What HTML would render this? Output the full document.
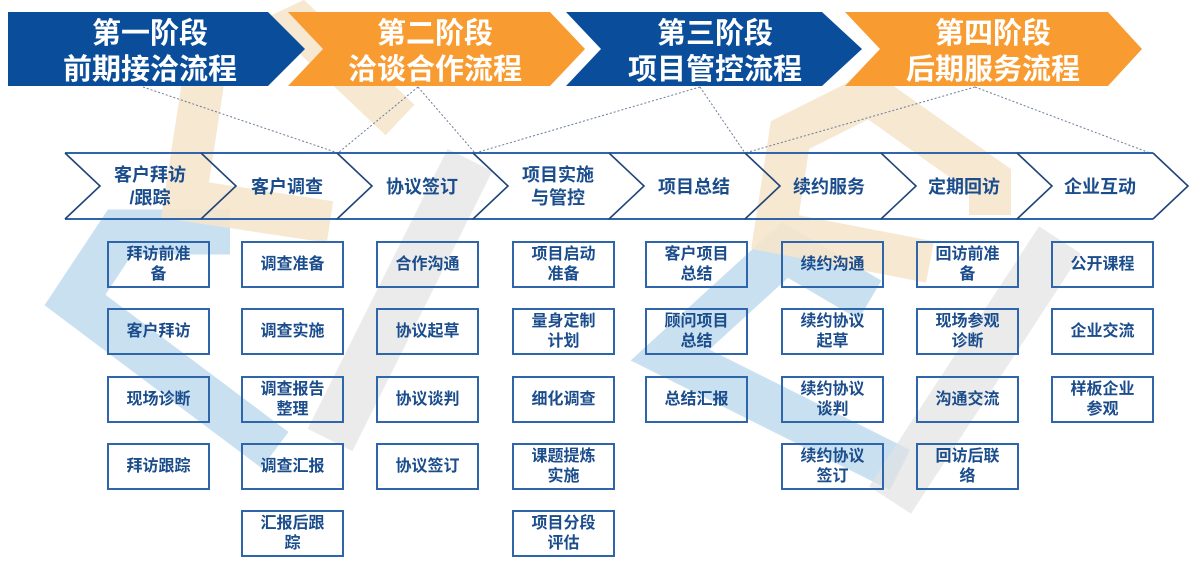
<!DOCTYPE html>
<html><head><meta charset="utf-8"><style>
body{margin:0;width:1204px;height:566px;background:#fff;position:relative;overflow:hidden;font-family:"Liberation Sans","Noto Sans CJK SC",sans-serif;}
svg{position:absolute;left:0;top:0}
.b{position:absolute;width:99px;height:43px;border:2px solid #2f66ab;display:flex;align-items:center;justify-content:center;text-align:center;font-weight:bold;font-size:16px;line-height:20px;color:#1b4d8c;box-sizing:content-box}
</style></head><body>
<svg width="1204" height="566">
<!-- watermark -->
<g fill="none" stroke-linejoin="miter">
<path d="M230,232 L120,232 L75,300 L275,450" stroke="#c9e0f1" stroke-width="45"/>
<path d="M870,300 L785,250 L670,355 L900,470" stroke="#c9e0f1" stroke-width="45"/>
<path d="M400,120 L300,25 L205,70 L185,200 L330,222" stroke="#f5e6cc" stroke-width="42" opacity="0.9"/>
<path d="M990,215 L990,180 L870,95 L790,135 L775,232 L930,262" stroke="#f5e6cc" stroke-width="42" opacity="0.9"/>
<path d="M330,440 L470,160" stroke="#e3e3e3" stroke-width="50" opacity="0.7"/>
<path d="M890,500 L1060,240" stroke="#e3e3e3" stroke-width="50" opacity="0.7"/>
</g>
<!-- banners -->
<polygon points="8,12 268,12 305,49 268,86 8,86" fill="#0a4d9b"/>
<polygon points="288,12 550,12 585,49 550,86 288,86 323,49" fill="#f89c32"/>
<polygon points="566,12 822,12 862,49 822,86 566,86 601,49" fill="#0a4d9b"/>
<polygon points="845,12 1108,12 1142,49 1108,86 845,86 880,49" fill="#f89c32"/>
<g font-weight="bold" font-size="29" fill="#fff" text-anchor="middle" font-family="Liberation Sans,Noto Sans CJK SC,sans-serif">
<text x="150" y="43">第一阶段</text><text x="150" y="79">前期接洽流程</text>
<text x="435" y="43">第二阶段</text><text x="435" y="79">洽谈合作流程</text>
<text x="715" y="43">第三阶段</text><text x="715" y="79">项目管控流程</text>
<text x="993" y="43">第四阶段</text><text x="993" y="79">后期服务流程</text>
</g>
<!-- dotted -->
<g stroke="#6b7c99" stroke-width="1" stroke-dasharray="2,2" fill="none">
<line x1="143" y1="87" x2="338" y2="153"/>
<line x1="418" y1="87" x2="338" y2="153"/>
<line x1="418" y1="87" x2="475" y2="153"/>
<line x1="700" y1="87" x2="475" y2="153"/>
<line x1="700" y1="87" x2="745" y2="153"/>
<line x1="975" y1="87" x2="745" y2="153"/>
<line x1="975" y1="87" x2="1150" y2="153"/>
</g>
<!-- chevron row -->
<g fill="none" stroke="#2f66ab" stroke-width="2">
<line x1="65" y1="153" x2="1153" y2="153"/>
<line x1="65" y1="219" x2="1153" y2="219"/>
</g>
<g fill="none" stroke="#1f4478" stroke-width="1.6">
<polyline points="65,153 100,186 65,219"/>
<polyline points="201,153 236,186 201,219"/>
<polyline points="337,153 372,186 337,219"/>
<polyline points="473,153 508,186 473,219"/>
<polyline points="609,153 644,186 609,219"/>
<polyline points="745,153 780,186 745,219"/>
<polyline points="881,153 916,186 881,219"/>
<polyline points="1017,153 1052,186 1017,219"/>
<polyline points="1153,153 1188,186 1153,219"/>
</g>
<g font-weight="bold" font-size="18" fill="#1b4d8c" text-anchor="middle" font-family="Liberation Sans,Noto Sans CJK SC,sans-serif">
<text x="150" y="181">客户拜访</text><text x="150" y="204">/跟踪</text>
<text x="287" y="193">客户调查</text>
<text x="422" y="193">协议签订</text>
<text x="558" y="181">项目实施</text><text x="558" y="204">与管控</text>
<text x="694" y="193">项目总结</text>
<text x="829" y="193">续约服务</text>
<text x="964" y="193">定期回访</text>
<text x="1100" y="193">企业互动</text>
</g>
</svg>
<div class="b" style="left:107px;top:241px">拜访前准<br>备</div>
<div class="b" style="left:107px;top:308px">客户拜访</div>
<div class="b" style="left:107px;top:376px">现场诊断</div>
<div class="b" style="left:107px;top:443px">拜访跟踪</div>

<div class="b" style="left:241px;top:241px">调查准备</div>
<div class="b" style="left:241px;top:308px">调查实施</div>
<div class="b" style="left:241px;top:376px">调查报告<br>整理</div>
<div class="b" style="left:241px;top:443px">调查汇报</div>
<div class="b" style="left:241px;top:510px">汇报后跟<br>踪</div>

<div class="b" style="left:376px;top:241px">合作沟通</div>
<div class="b" style="left:376px;top:308px">协议起草</div>
<div class="b" style="left:376px;top:376px">协议谈判</div>
<div class="b" style="left:376px;top:443px">协议签订</div>

<div class="b" style="left:512px;top:241px">项目启动<br>准备</div>
<div class="b" style="left:512px;top:308px">量身定制<br>计划</div>
<div class="b" style="left:512px;top:376px">细化调查</div>
<div class="b" style="left:512px;top:443px">课题提炼<br>实施</div>
<div class="b" style="left:512px;top:510px">项目分段<br>评估</div>

<div class="b" style="left:645px;top:241px">客户项目<br>总结</div>
<div class="b" style="left:645px;top:308px">顾问项目<br>总结</div>
<div class="b" style="left:645px;top:376px">总结汇报</div>

<div class="b" style="left:781px;top:241px">续约沟通</div>
<div class="b" style="left:781px;top:308px">续约协议<br>起草</div>
<div class="b" style="left:781px;top:376px">续约协议<br>谈判</div>
<div class="b" style="left:781px;top:443px">续约协议<br>签订</div>

<div class="b" style="left:916px;top:241px">回访前准<br>备</div>
<div class="b" style="left:916px;top:308px">现场参观<br>诊断</div>
<div class="b" style="left:916px;top:376px">沟通交流</div>
<div class="b" style="left:916px;top:443px">回访后联<br>络</div>

<div class="b" style="left:1051px;top:241px">公开课程</div>
<div class="b" style="left:1051px;top:308px">企业交流</div>
<div class="b" style="left:1051px;top:376px">样板企业<br>参观</div>
</body></html>
